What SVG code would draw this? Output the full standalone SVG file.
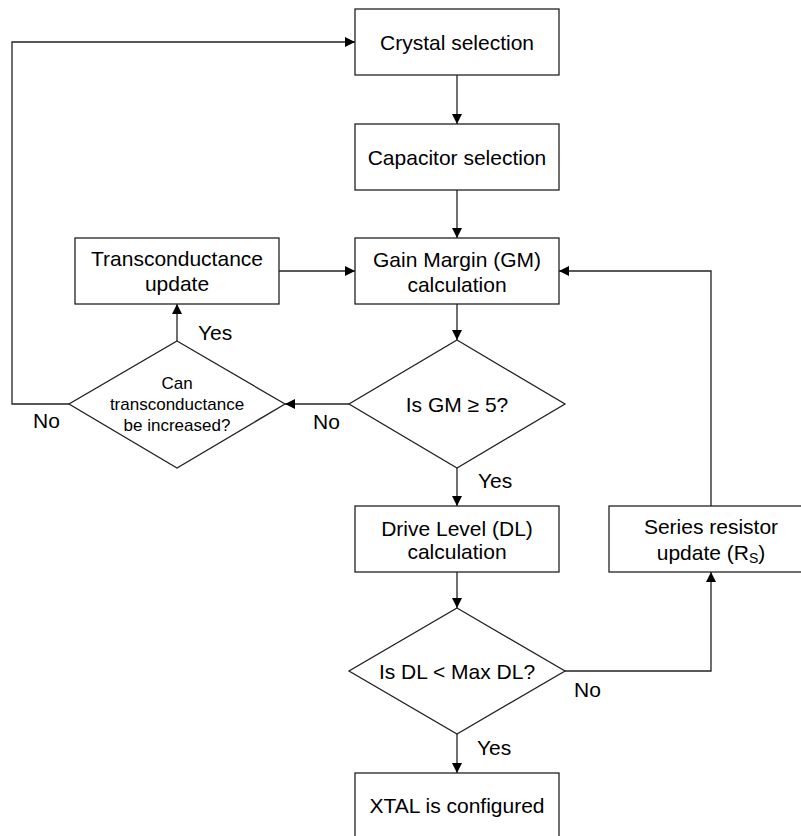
<svg xmlns="http://www.w3.org/2000/svg" width="801" height="836" viewBox="0 0 801 836">
<style>
.box{fill:#fff;stroke:#222;stroke-width:1.3}
.t{font-family:"Liberation Sans",Arial,sans-serif;font-size:21px;fill:#000;text-anchor:middle}
.s{font-family:"Liberation Sans",Arial,sans-serif;font-size:17px;fill:#000;text-anchor:middle}
.lbl{font-family:"Liberation Sans",Arial,sans-serif;font-size:21px;fill:#000}
.c{fill:none;stroke:#222;stroke-width:1.3}
</style>
<defs>
<marker id="arr" viewBox="0 0 10 10" refX="10" refY="5" markerWidth="10" markerHeight="10" markerUnits="userSpaceOnUse" orient="auto">
<path d="M0,0 L10,5 L0,10 z" fill="#000"/>
</marker>
</defs>
<rect width="801" height="836" fill="#fff"/>
<g id="connectors">
<path class="c" d="M457,75 V124" marker-end="url(#arr)"/>
<path class="c" d="M457,190 V238" marker-end="url(#arr)"/>
<path class="c" d="M457,304 V340" marker-end="url(#arr)"/>
<path class="c" d="M349,404 H285" marker-end="url(#arr)"/>
<path class="c" d="M177,341 V304" marker-end="url(#arr)"/>
<path class="c" d="M279,271 H355" marker-end="url(#arr)"/>
<path class="c" d="M69,404 H12 V42 H355" marker-end="url(#arr)"/>
<path class="c" d="M457,468 V506" marker-end="url(#arr)"/>
<path class="c" d="M457,572 V608" marker-end="url(#arr)"/>
<path class="c" d="M457,734 V773" marker-end="url(#arr)"/>
<path class="c" d="M565,671 H711 V572" marker-end="url(#arr)"/>
<path class="c" d="M711,506 V271 H559" marker-end="url(#arr)"/>
<text class="lbl" x="313" y="429">No</text>
<text class="lbl" x="33" y="428">No</text>
<text class="lbl" x="198" y="340">Yes</text>
<text class="lbl" x="478" y="488">Yes</text>
<text class="lbl" x="477" y="755">Yes</text>
<text class="lbl" x="574" y="697">No</text>
</g>
<g id="crystal">
<rect class="box" x="355" y="9" width="204" height="66"/>
<text class="t" x="457" y="50">Crystal selection</text>
</g>
<g id="capacitor">
<rect class="box" x="355" y="124" width="204" height="66"/>
<text class="t" x="457" y="165">Capacitor selection</text>
</g>
<g id="transconductance">
<rect class="box" x="75" y="238" width="204" height="66"/>
<text class="t" x="177" y="266">Transconductance</text>
<text class="t" x="177" y="291">update</text>
</g>
<g id="gain">
<rect class="box" x="355" y="238" width="204" height="66"/>
<text class="t" x="457" y="267">Gain Margin (GM)</text>
<text class="t" x="457" y="292">calculation</text>
</g>
<g id="can">
<polygon class="box" points="177,341 285,404 177,468 69,404"/>
<text class="s" x="177" y="389">Can</text>
<text class="s" x="177" y="410">transconductance</text>
<text class="s" x="177" y="431">be increased?</text>
</g>
<g id="isgm">
<polygon class="box" points="457,340 565,404 457,468 349,404"/>
<text class="t" x="457" y="412">Is GM ≥ 5?</text>
</g>
<g id="drive">
<rect class="box" x="355" y="506" width="204" height="66"/>
<text class="t" x="457" y="536">Drive Level (DL)</text>
<text class="t" x="457" y="559">calculation</text>
</g>
<g id="series">
<rect class="box" x="609" y="506" width="204" height="66"/>
<text class="t" x="711" y="534">Series resistor</text>
<text class="t" x="711" y="560">update (R<tspan font-size="14" dy="3">S</tspan><tspan dy="-3">)</tspan></text>
</g>
<g id="isdl">
<polygon class="box" points="457,608 565,671 457,734 349,671"/>
<text class="t" x="457" y="679">Is DL &lt; Max DL?</text>
</g>
<g id="xtal">
<rect class="box" x="355" y="773" width="204" height="66"/>
<text class="t" x="457" y="813">XTAL is configured</text>
</g>
</svg>
